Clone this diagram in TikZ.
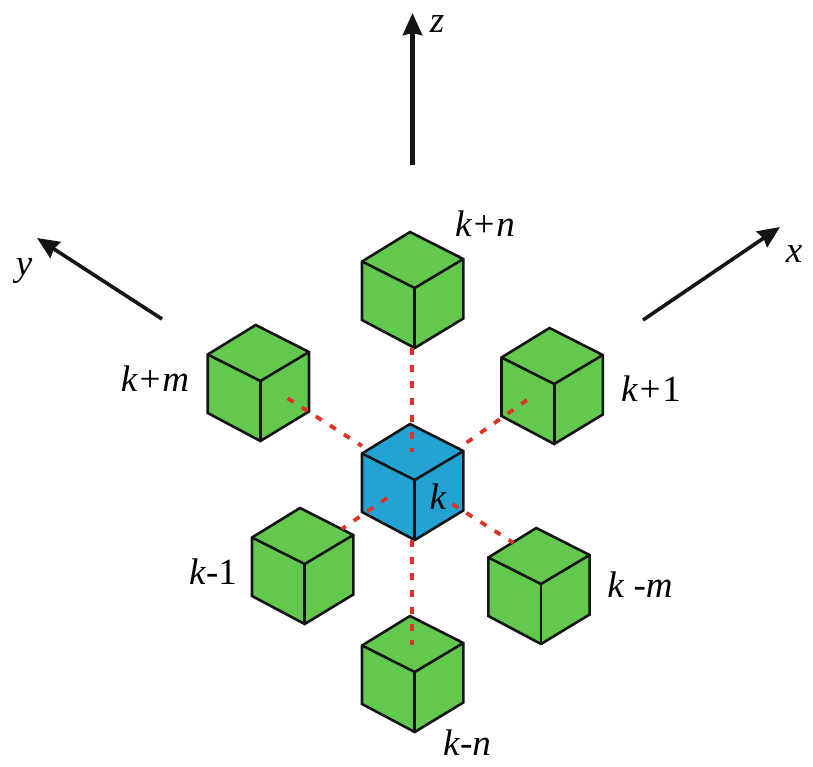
\documentclass[tikz,border=0pt]{standalone}
\usepackage{fontspec}
\setmainfont{Liberation Serif}
\usepackage{tikz}
\usetikzlibrary{arrows.meta}
\definecolor{cubegreen}{HTML}{62C94E}
\definecolor{cubeblue}{HTML}{23A3D3}
\definecolor{linkred}{HTML}{E03127}
\definecolor{axisblack}{HTML}{141414}
\newcommand{\vr}[1]{\textit{#1}}
\tikzstyle{label} = [inner sep=0pt, text=black, font=\fontsize{37}{37}\selectfont]
\tikzstyle{face} = [draw=axisblack, line width=2.6pt, line join=miter]
\tikzstyle{link} = [draw=linkred, line width=3.8pt, dash pattern=on 7pt off 9.7pt]
\tikzstyle{axis} = [draw=axisblack, -{Stealth[length=22pt,width=19pt,inset=2pt]}]
\tikzset{
	cube/.pic={
		\draw [face, fill=#1] (0,0) -- (-48,29.5) -- (-48,88) -- (4.7,116) -- (53.3,86.5) -- (53.3,27) -- cycle;
		\draw [face] (-48,29.5) -- (4.7,56) -- (53.3,27);
		\draw [face] (4.7,56) -- (4.7,116);
	}
}

\begin{document}
\begin{tikzpicture}[x=1pt, y=-1pt]
	\useasboundingbox (0,0) rectangle (813,766);

	% neighbours and centre
	\pic at (410,232) {cube=cubegreen};
	\pic at (549.5,328) {cube=cubegreen};
	\pic at (255.7,325) {cube=cubegreen};
	\pic at (300,508) {cube=cubegreen};
	\pic at (536.3,528) {cube=cubegreen};
	\pic at (410,616) {cube=cubegreen};
	\pic at (410,424) {cube=cubeblue};

	% ends of the links
	\coordinate (a1) at (412.2,348);
	\coordinate (a2) at (412.2,452);
	\coordinate (b1) at (412.2,540);
	\coordinate (b2) at (412.2,645);
	\coordinate (c1) at (287.7,398.3);
	\coordinate (c2) at (362,446);
	\coordinate (d1) at (527,400);
	\coordinate (d2) at (459,448);
	\coordinate (e1) at (387,498);
	\coordinate (e2) at (341.7,529);
	\coordinate (f1) at (452.3,504);
	\coordinate (f2) at (513.3,542.7);

	\draw [link] (a1) -- (a2);
	\draw [link] (b1) -- (b2);
	\draw [link] (c1) -- (c2);
	\draw [link] (d1) -- (d2);
	\draw [link] (e1) -- (e2);
	\draw [link] (f1) -- (f2);

	% axes
	\coordinate (z0) at (412.5,165);
	\coordinate (z1) at (412.5,13);
	\coordinate (y0) at (162,319);
	\coordinate (y1) at (37,238);
	\coordinate (x0) at (643,320);
	\coordinate (x1) at (780,227);
	\draw [axis, line width=4.8pt] (z0) -- (z1);
	\draw [axis, line width=3.6pt] (y0) -- (y1);
	\draw [axis, line width=3.6pt] (x0) -- (x1);

	\node (lz) [label] at (437,24) {\vr{z}};
	\node (ly) [label] at (24,271) {\vr{y}};
	\node (lx) [label] at (794,254) {\vr{x}};
	\node (lkn) [label] at (485,224) {\vr{k+n}};
	\node (lkm) [label] at (155,379) {\vr{k+m}};
	\node (lk1) [label] at (651,389) {\vr{k+}1};
	\node (lk) [label] at (438,497) {\vr{k}};
	\node (lkd) [label] at (213,572) {\vr{k}-1};
	\node (lkmm) [label] at (640,585) {\vr{k} -\vr{m}};
	\node (lknn) [label] at (467,743) {\vr{k}-\vr{n}};
\end{tikzpicture}
\end{document}
